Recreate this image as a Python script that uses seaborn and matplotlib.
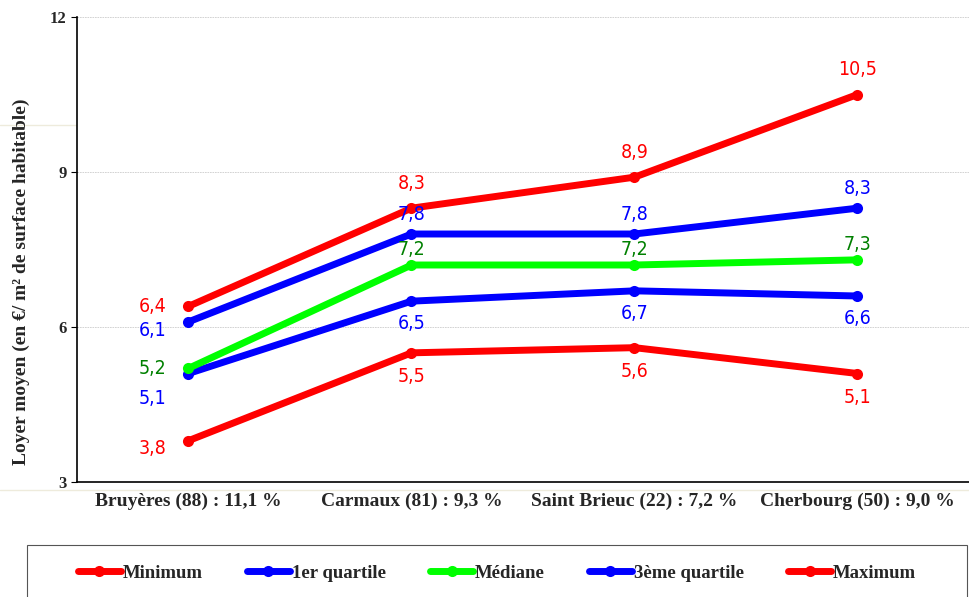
import numpy as np
import pandas as pd
import matplotlib.pyplot as plt
import seaborn as sns
from matplotlib.lines import Line2D
from matplotlib.patches import Rectangle

# data
villes = ['Bruyères (88) : 11,1 %', 'Carmaux (81) : 9,3 %',
          'Saint Brieuc (22) : 7,2 %', 'Cherbourg (50) : 9,0 %']
minimum = [3.8, 5.5, 5.6, 5.1]
quartile1 = [5.1, 6.5, 6.7, 6.6]
mediane = [5.2, 7.2, 7.2, 7.3]
quartile3 = [6.1, 7.8, 7.8, 8.3]
maximum = [6.4, 8.3, 8.9, 10.5]

series = ['Minimum', '1er quartile', 'Médiane', '3ème quartile', 'Maximum']
valeurs = [minimum, quartile1, mediane, quartile3, maximum]
line_colors = ['#FF0000', '#0000FF', '#00FF00', '#0000FF', '#FF0000']
text_colors = ['#FF0000', '#0000FF', '#008000', '#0000FF', '#FF0000']
# label offsets (points): first city, other cities
off_first = [(-26, -6), (-26, -18), (-26, 0), (-26, -6), (-26, 0)]
off_other = [(0, -17), (0, -16), (0, 11), (0, 14), (0, 18)]

sns.set_style('white')
plt.rcParams['font.family'] = ['Liberation Serif', 'DejaVu Serif']

fig = plt.figure(figsize=(9.7, 5.97), dpi=100)
ax = fig.add_axes([77 / 970, 1 - 482 / 597, 892 / 970, 465 / 597])

x = np.arange(len(villes))
for name, vals, lc, tc, o1, o2 in zip(series, valeurs, line_colors, text_colors, off_first, off_other):
    sns.lineplot(x=x, y=vals, color=lc, marker='o', markersize=8, markeredgewidth=0,
                 linewidth=5, ax=ax, label=name, legend=False)
    for i, v in enumerate(vals):
        off = o1 if i == 0 else o2
        ax.annotate(f'{v:.1f}'.replace('.', ','), (x[i], v), xytext=off,
                    textcoords='offset points', ha='center', va='center',
                    color=tc, fontsize=14, family='DejaVu Sans', fontstretch='condensed')

ax.set_xlim(-0.5, 3.5)
ax.set_ylim(3, 12)
ax.set_yticks([3, 6, 9, 12])
ax.set_yticklabels(['3', '6', '9', '12'], fontweight='bold', fontsize=12)
ax.set_xticks(x)
ax.set_xticklabels(villes, fontweight='bold', fontsize=14)
ax.set_xticks([-0.5, 0.5, 1.5, 2.5, 3.5], minor=True)
ax.tick_params(axis='x', which='major', length=0, pad=8)
ax.tick_params(axis='x', which='minor', length=6, width=0.6, color='#999999')
ax.tick_params(axis='y', length=4, width=0.8, color='black', left=True)
ax.yaxis.grid(True, linestyle=(0, (2, 1)), color='#CCCCCC', linewidth=0.6)
ax.set_axisbelow(True)
for s in ['top', 'right']:
    ax.spines[s].set_visible(False)
ax.spines['left'].set_color('black')
ax.spines['bottom'].set_color('black')
ax.spines['left'].set_linewidth(1.2)
ax.spines['bottom'].set_linewidth(1.2)
ax.set_xlabel('')
ax.set_ylabel('Loyer moyen (en €/ m² de surface habitable)', fontweight='bold', fontsize=14)
ax.yaxis.set_label_coords(-0.053, 0.43)

# faint beige lines from the original
for yy in [125, 490]:
    fig.add_artist(Line2D([0, 1], [1 - yy / 597, 1 - yy / 597], color='#EEEBDC', linewidth=1, zorder=0))

# legend box
fig.add_artist(Rectangle((27 / 970, -0.02), 940 / 970, 0.02 + 1 - 545 / 597,
                         transform=fig.transFigure, fill=False, edgecolor='#555555', linewidth=0.8))
handles = [Line2D([0], [0], color=c, linewidth=5, marker='o', markersize=8, markeredgewidth=0)
           for c in line_colors]
leg = fig.legend(handles, series, ncol=5, loc='center',
                 bbox_to_anchor=(497 / 970, 1 - 573 / 597),
                 frameon=False, handlelength=2.3, handletextpad=0.1,
                 columnspacing=2.35, prop={'weight': 'bold', 'size': 13.5},
                 borderpad=0, borderaxespad=0)

fig.savefig('out.png', dpi=100)
